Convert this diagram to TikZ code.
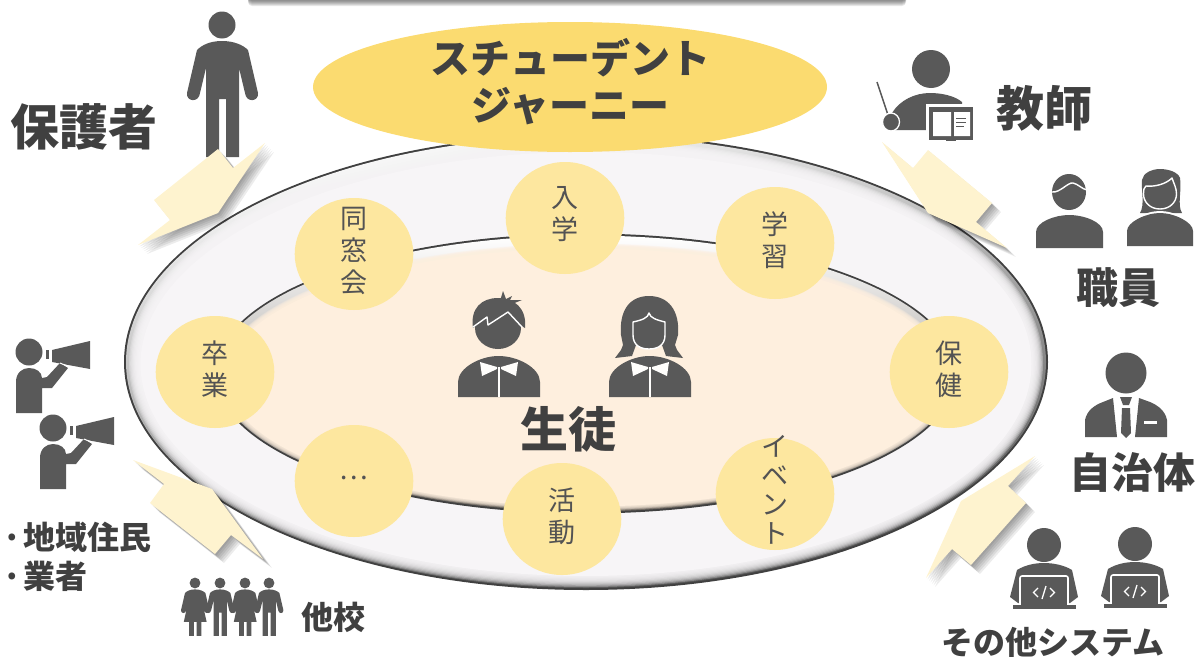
\documentclass[tikz,border=0pt]{standalone}
\usepackage{fontspec}
\setmainfont{Noto Sans CJK JP}
\definecolor{icon}{HTML}{595959}
\definecolor{ink}{HTML}{404040}
\definecolor{stagefill}{HTML}{FDE79F}
\definecolor{titlefill}{HTML}{FBDB70}
\definecolor{calloutfill}{HTML}{FEF3CF}
\definecolor{ringface}{HTML}{F7F5F7}
\definecolor{wellface}{HTML}{FEEFDE}
\newcommand\px[1]{\fontsize{#1}{#1}\selectfont}
\tikzset{
  iconfill/.style={fill=icon,draw=none},
  gap/.style={draw=white,line width=1.4pt,line cap=round,line join=round},
  boldlabel/.style={text=ink,inner sep=0pt,font=\bfseries},
  stagedisc/.style={shape=ellipse,fill=stagefill,draw=none,minimum width=118.6pt,minimum height=112pt,inner sep=0pt},
  stagetext/.style={text=ink!90,inner sep=0pt,align=center,font=\fontsize{27}{32}\selectfont},
}
\usetikzlibrary{shapes.geometric}
% callout: soft shadow, then the flat shape
\newcommand\callout[1]{%
  \foreach \s in {1.5,3,4.5,6,7.5,9}{\fill[black,opacity=.075,shift={(\s,\s)}] #1;}
  \fill[calloutfill] #1;}
\newcommand\manshape{(222,41) .. controls (210,41) and (202,45) .. (197,50) -- (187,93) .. controls (186,102) and (199,103) .. (200,93) -- (206,68) -- (206,157) -- (219,157) -- (219,99) -- (226,99) -- (226,157) -- (239,157) -- (239,68) -- (245,93) .. controls (246,103) and (259,102) .. (258,93) -- (248,50) .. controls (243,45) and (234,41) .. (222,41) -- cycle (222,25) circle[radius=13.5]}
\newcommand\womanshape{(222,41) .. controls (210,41) and (202,45) .. (197,50) -- (187,93) .. controls (186,102) and (199,103) .. (200,93) -- (206,68) -- (194,122) -- (207,122) -- (207,157) -- (219,157) -- (219,122) -- (226,122) -- (226,157) -- (238,157) -- (238,122) -- (251,122) -- (239,68) -- (245,93) .. controls (246,103) and (259,102) .. (258,93) -- (248,50) .. controls (243,45) and (234,41) .. (222,41) -- cycle (222,25) circle[radius=13.5]}
\newcommand\studentbody{%
  \fill[iconfill] (458,397) -- (458,382) .. controls (458,368) and (480,356) .. (498.5,356) .. controls (518,356) and (540,368) .. (540,382) -- (540,397) -- cycle;
  \fill[white!92!wellface] (480,362) -- (497,367) -- (497,369) -- (482,376) -- cycle (518,362) -- (501,367) -- (501,369) -- (516,376) -- cycle;
  \draw[white!92!wellface,line width=1.3pt] (499,367) -- (499,397);}
\newcommand\speaker{%
  \fill[iconfill] (29,352) circle[radius=13.5];
  \fill[iconfill] (16,413) -- (16,382) .. controls (16,373) and (22,368) .. (29,368) .. controls (36,368) and (42,372) .. (42,378) -- (47,377) -- (60,363) -- (68,368) -- (52,388) -- (42,388) -- (42,413) -- cycle;
  \fill[iconfill] (52,350) -- (90,341) -- (90,369) -- (52,362) -- cycle;
  \fill[iconfill] (46,350) rectangle (49,359);
  \draw[white,line width=1pt] (60,363) -- (72,368);}
\newcommand\coder{%
  \fill[iconfill] (1044,545) circle[radius=17];
  \fill[iconfill] (1010,597) -- (1017,570) .. controls (1025,565) and (1035,563) .. (1044,563) .. controls (1053,563) and (1064,565) .. (1072,570) -- (1078,597) -- (1070,603) -- (1018,603) -- cycle;
  \draw[white,line width=1.6pt,rounded corners=2pt,fill=icon] (1020,606) -- (1020,576) -- (1068,576) -- (1068,606);
  \fill[iconfill] (1013,605) rectangle (1076,609);
  \draw[white,line width=1.3pt] (1038,588) -- (1033.5,592.5) -- (1038,597) (1050,588) -- (1054.5,592.5) -- (1050,597) (1046,586) -- (1042,599);}
\newcommand\stage[5]{% name, x, y, text, text offset
  \node[stagedisc] (#1) at (#2,#3) {};
  \node[stagetext] (#1t) at ([yshift=#5]#1.center) {#4};}
\begin{document}
\begin{tikzpicture}[x=1pt,y=-1pt]
\useasboundingbox (0,0) rectangle (1196,656);
\begin{scope}
\clip (0,0) rectangle (1196,656);
% top banner edge
\foreach \s in {1,2,3,4,5,6}{\fill[black,opacity=.09,rounded corners=4pt] (248,-20) rectangle (906,\s);}
\fill[white] (248,-20) rectangle (906,0);
% outer ring
\fill[ink] (586,362) ellipse[x radius=462,y radius=228];
\shade[top color=white,middle color=white!90!black,bottom color=black!70,shading angle=12] (586,362) ellipse[x radius=460,y radius=226];
\foreach \k in {0,...,8}{\fill[ringface,opacity=.3] (586,363.5) ellipse[x radius={457-\k*1.2},y radius={223.5-\k*1.2}];}
\fill[ringface] (586,364) ellipse[x radius=445.5,y radius=212];
% inner well
\fill[ink] (586,373.5) ellipse[x radius=371,y radius=140];
\shade[top color=white,middle color=white!95!wellface,bottom color=black!55!wellface] (586,373.5) ellipse[x radius=369,y radius=138];
\foreach \k in {0,...,6}{\fill[wellface,opacity=.3] (586,377) ellipse[x radius={366-\k*.8},y radius={133.5-\k*.6}];}
\fill[wellface] (586,377.5) ellipse[x radius=360,y radius=129];
% people over ring: parent
\fill[iconfill] \manshape;
\callout{(265,143) -- (233,168) -- (218,149) -- (154,200) -- (170,220) -- (138,245) -- (218,213) -- cycle}
\callout{(882,142) -- (913,168) -- (928,150) -- (992,203) -- (976,222) -- (1007,248) -- (928,213) -- cycle}
\callout{(1035,456) -- (1008,486) -- (1026,503) -- (971,565) -- (952,549) -- (926,578) -- (961,501) -- cycle}
\callout{(133,460) -- (164,484) -- (150,503) -- (215,554) -- (231,535) -- (263,559) -- (212,489) -- cycle}
% title
\node[shape=ellipse,fill=titlefill,minimum width=514pt,minimum height=130pt,inner sep=0pt] (title) at (570,87) {};
\node[boldlabel,font=\bfseries\px{40}] (title1) at (570,58) {スチューデント};
\node[boldlabel,font=\bfseries\px{40}] (title2) at (570,106) {ジャーニー};
% stages
\stage{dousou}{354}{254}{同\\窓\\会}{3pt}
\stage{nyuu}{565}{218}{入\\学}{4pt}
\stage{gaku}{775}{243}{学\\習}{3pt}
\stage{hoken}{949}{372}{保\\健}{3pt}
\stage{event}{775}{494}{イ\\[-3pt]ベ\\[-3pt]ン\\[-3pt]ト}{4pt}
\stage{katsu}{562}{519}{活\\動}{3pt}
\stage{etc}{354}{481}{…}{3pt}
\stage{sotsu}{215}{372}{卒\\業}{3pt}
% students
\studentbody
\fill[iconfill] (498,328) ellipse[x radius=23,y radius=21];
\fill[iconfill] (473,328) .. controls (470,308) and (482,298) .. (498,298) .. controls (514,298) and (527,308) .. (525,328) -- (498,312) -- cycle;
\fill[iconfill] (503,291) -- (506,299) -- (512,296) -- (510,300) -- (522,300) -- (512,304) -- (500,301) -- cycle;
\draw[gap] (473,327) -- (487,317) -- (488,325) -- (508,312) -- (522,327);
\fill[iconfill] (621,335) .. controls (619,310) and (630,296) .. (649,296) .. controls (668,296) and (680,310) .. (678,335) -- (675,345) -- (677,350) -- (683,358) -- (666,356) -- (662,345) -- (636,345) -- (632,356) -- (615,358) -- (621,350) -- (623,345) -- cycle;
\begin{scope}[shift={(151,0)}]
\fill[wellface] (458,397) -- (458,380) .. controls (458,366) and (480,354) .. (498.5,354) .. controls (518,354) and (540,366) .. (540,380) -- (540,397) -- cycle;
\studentbody
\end{scope}
\path[iconfill,gap,fill=icon] (633,322) .. controls (642,320) and (648,318) .. (649,313) .. controls (650,318) and (657,320) .. (665,322) -- (665,335) .. controls (665,345) and (658,349) .. (649,349) .. controls (640,349) and (633,345) .. (633,335) -- cycle;
\node[boldlabel,font=\bfseries\px{48}] (students) at (568,429) {生徒};
% labels
\node[boldlabel,font=\bfseries\px{49}] (parent) at (84,127) {保護者};
\node[boldlabel,font=\bfseries\px{48}] (teacher) at (1044,108) {教師};
\node[boldlabel,font=\bfseries\px{42}] (staff) at (1118,288) {職員};
\node[boldlabel,font=\bfseries\px{42}] (city) at (1132,472) {自治体};
\node[boldlabel,font=\bfseries\px{32}] (system) at (1053,642) {その他システム};
\node[boldlabel,font=\bfseries\fontsize{32}{39}\selectfont,anchor=west,align=left] (local) at (2.5,557) {\makebox[20.5pt][l]{·}地域住民\\\makebox[20.5pt][l]{·}業者};
\node[boldlabel,font=\bfseries\px{32}] (school) at (333,617) {他校};
% teacher
\fill[iconfill] (931,69) circle[radius=19];
\draw[icon,line width=1.5pt] (877,82) -- (888,115);
\fill[iconfill] (893,130) -- (892,113) .. controls (900,100) and (915,93) .. (930,93) .. controls (942,93) and (955,96) .. (962,102) -- (962,130) -- cycle;
\draw[fill=icon,draw=white,line width=1.3pt] (891,122) ellipse[x radius=8.5,y radius=9];
\fill[white] (926,104) rectangle (976,140);
\fill[iconfill] (929,107) rectangle (973,139.5);
\fill[iconfill] (946,139) rectangle (956,141);
\fill[white] (933,112) rectangle (951,136) (954,112) rectangle (970,136);
\draw[icon,line width=1pt] (956,118) -- (966,118) (956,122) -- (966,122) (956,126) -- (964,126);
% staff
\fill[iconfill] (1069,192) ellipse[x radius=17,y radius=18];
\draw[gap] (1052,192) .. controls (1060,193) and (1068,182) .. (1073,183) .. controls (1078,184) and (1082,189) .. (1087,190);
\fill[iconfill] (1036,248) -- (1036,232) .. controls (1036,222) and (1055,215) .. (1069,215) .. controls (1084,215) and (1103,222) .. (1103,232) -- (1103,248) -- cycle;
\fill[iconfill] (1140,213) .. controls (1145,205) and (1141,190) .. (1142,180) .. controls (1143,173) and (1152,169) .. (1160,169) .. controls (1168,169) and (1178,172) .. (1180,178) .. controls (1182,190) and (1177,205) .. (1182,213) -- cycle;
\draw[gap,fill=icon] (1160,209) .. controls (1150,209) and (1143.5,202) .. (1143.5,194) .. controls (1143.5,190) and (1144,187) .. (1146,186) .. controls (1155,187) and (1166,184) .. (1172,178) .. controls (1174,184) and (1176.5,188) .. (1176.5,194) .. controls (1176.5,202) and (1170,209) .. (1160,209) -- cycle;
\fill[white] (1127,246) -- (1127,230) .. controls (1127,220) and (1146,211) .. (1160,211) .. controls (1174,211) and (1193,220) .. (1193,230) -- (1193,246) -- cycle;
\fill[iconfill] (1127,246) -- (1127,231) .. controls (1127,222) and (1146,213) .. (1160,213) .. controls (1174,213) and (1193,222) .. (1193,231) -- (1193,246) -- cycle;
% official
\fill[iconfill] (1126,373) circle[radius=20.5];
\fill[iconfill] (1085,437) -- (1085,420) .. controls (1087,410) and (1095,405) .. (1103,402) -- (1113,398) -- (1117,437) -- cycle;
\fill[iconfill] (1167,437) -- (1167,420) .. controls (1165,410) and (1157,405) .. (1150,402) -- (1139,398) -- (1135,437) -- cycle;
\fill[iconfill] (1120,397) -- (1132,397) -- (1129,405) -- (1123,405) -- cycle;
\fill[iconfill] (1122,408) -- (1130,408) -- (1131,433) -- (1126,438) -- (1121,433) -- cycle;
\fill[white] (1144,421) rectangle (1157,423.5);
% coders
\coder
\begin{scope}[shift={(91,-1)}]\coder\end{scope}
% speakers
\speaker
\begin{scope}[shift={(24,76)}]\speaker\end{scope}
% group
\begin{scope}[shift={(106.2,573)},scale=.4]\fill[iconfill] \womanshape;\end{scope}
\begin{scope}[shift={(131.2,573)},scale=.4]\fill[iconfill] \manshape;\end{scope}
\begin{scope}[shift={(156.2,573)},scale=.4]\fill[iconfill] \womanshape;\end{scope}
\begin{scope}[shift={(180.2,573)},scale=.4]\fill[iconfill] \manshape;\end{scope}
\end{scope}
\end{tikzpicture}
\end{document}
